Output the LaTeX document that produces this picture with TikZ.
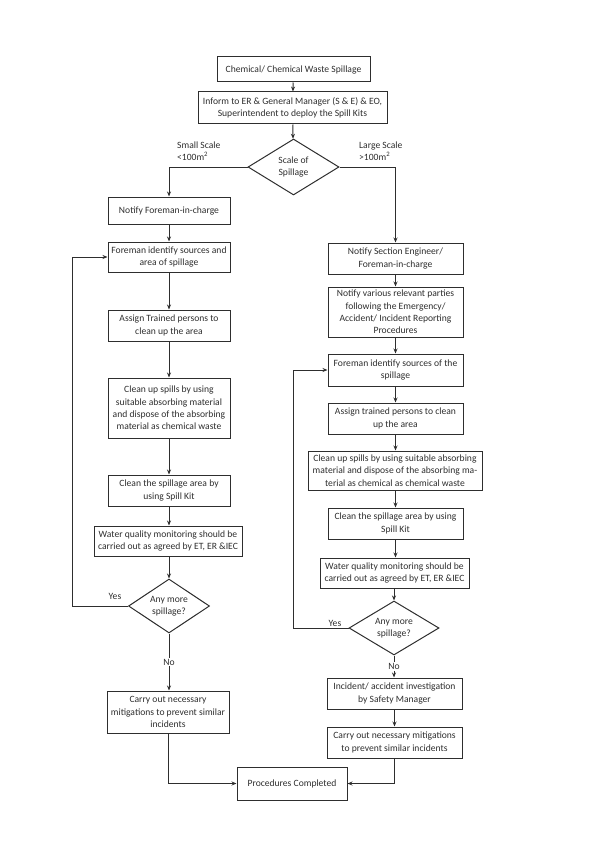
\documentclass[tikz,border=0pt]{standalone}
\usepackage{fontspec}
\setmainfont{Carlito}
\usetikzlibrary{shapes.geometric,arrows.meta,calc}
\definecolor{ink}{HTML}{2E2E2E}
\begin{document}
\begin{tikzpicture}[x=1pt,y=-1pt,
  every node/.style={font=\fontsize{9.6}{12.3}\selectfont, text=ink},
  box/.style={draw=ink, line width=1pt, align=center, inner sep=1pt},
  dec/.style={draw=ink, line width=1pt, diamond, align=center, inner sep=0pt, aspect=1.6},
  arr/.style={draw=ink, line width=1pt, -{Stealth[length=5pt,width=4pt]}},
  ln/.style={draw=ink, line width=1pt},
  lbl/.style={inner sep=1pt}]
\useasboundingbox (0,0) rectangle (599,848);
% top
\node[box, minimum width=153pt, minimum height=25pt] (b1) at (293.5,69.5) {Chemical/ Chemical Waste Spillage};
\node[box, minimum width=189pt, minimum height=32pt] (b2) at (292.5,108) {Inform to ER \& General Manager (S \& E) \& EO,\\Superintendent to deploy the Spill Kits};
\node[dec, minimum width=91pt, minimum height=56pt] (d1) at (293.5,167) {Scale of\\Spillage};
\node[lbl, anchor=west, align=left] (ls) at (176,151) {Small Scale\\<100m\textsuperscript{2}};
\node[lbl, anchor=west, align=left] (rs) at (358,151) {Large Scale\\>100m\textsuperscript{2}};
% left column
\node[box, minimum width=122pt, minimum height=27pt] (l1) at (169,210.5) {Notify Foreman-in-charge};
\node[box, minimum width=122pt, minimum height=30pt] (l2) at (169,257) {Foreman identify sources and\\area of spillage};
\node[box, minimum width=122pt, minimum height=31pt] (l3) at (169,325.5) {Assign Trained persons to\\clean up the area};
\node[box, minimum width=122pt, minimum height=60pt] (l4) at (169,408) {Clean up spills by using\\suitable absorbing material\\and dispose of the absorbing\\material as chemical waste};
\node[box, minimum width=122pt, minimum height=31pt] (l5) at (169,490.5) {Clean the spillage area by\\using Spill Kit};
\node[box, minimum width=148pt, minimum height=30pt] (l6) at (168,541) {Water quality monitoring should be\\carried out as agreed by ET, ER \&IEC};
\node[dec, minimum width=81pt, minimum height=54pt] (d2) at (169,606) {Any more\\spillage?};
\node[box, minimum width=122pt, minimum height=42pt] (l7) at (168,712) {Carry out necessary\\mitigations to prevent similar\\incidents};
% right column
\node[box, minimum width=135pt, minimum height=31pt] (r1) at (395.5,258.5) {Notify Section Engineer/\\Foreman-in-charge};
\node[box, minimum width=135pt, minimum height=50pt] (r2) at (395.5,312) {Notify various relevant parties\\following the Emergency/\\Accident/ Incident Reporting\\Procedures};
\node[box, minimum width=135pt, minimum height=32pt] (r3) at (395.5,370) {Foreman identify sources of the\\spillage};
\node[box, minimum width=135pt, minimum height=31pt] (r4) at (395.5,418.5) {Assign trained persons to clean\\up the area};
\node[box, minimum width=174pt, minimum height=39pt] (r5) at (395,470.5) {Clean up spills by using suitable absorbing\\material and dispose of the absorbing ma-\\terial as chemical as chemical waste};
\node[box, minimum width=135pt, minimum height=31pt] (r6) at (395.5,523.5) {Clean the spillage area by using\\Spill Kit};
\node[box, minimum width=149pt, minimum height=30pt] (r7) at (394.5,573) {Water quality monitoring should be\\carried out as agreed by ET, ER \&IEC};
\node[dec, minimum width=90pt, minimum height=54pt] (d3) at (394,628) {Any more\\spillage?};
\node[box, minimum width=135pt, minimum height=31pt] (r8) at (394.5,693.5) {Incident/ accident investigation\\by Safety Manager};
\node[box, minimum width=135pt, minimum height=31pt] (r9) at (394.5,742.5) {Carry out necessary mitigations\\to prevent similar incidents};
% final
\node[box, minimum width=110pt, minimum height=33pt] (fin) at (292,783.5) {Procedures Completed};
% loop corners
\coordinate (lloop) at (72,606);
\coordinate (rloop) at (293,628);
% connectors
\draw[arr] (b1) -- (b2);
\draw[arr] (b2) -- (d1);
\draw[arr] (d1.west) -| (l1.north);
\draw[arr] (d1.east) -| (r1.north);
\draw[arr] (l1) -- (l2);
\draw[arr] (l2) -- (l3);
\draw[arr] (l3) -- (l4);
\draw[arr] (l4) -- (l5);
\draw[arr] (l5) -- (l6.north -| l5);
\draw[arr] (l6.south -| d2) -- (d2);
\draw[arr] (d2.west) -- (lloop) |- (l2.west);
\draw[arr] (d2.south) -- node[lbl, fill=white] (no1) {No} (l7.north -| d2);
\draw[arr] (l7.south) |- (fin.west);
\draw[arr] (r1) -- (r2);
\draw[arr] (r2) -- (r3);
\draw[arr] (r3) -- (r4);
\draw[arr] (r4) -- (r5.north -| r4);
\draw[arr] (r5.south -| r6) -- (r6);
\draw[arr] (r6) -- (r7.north -| r6);
\draw[arr] (r7.south -| d3) -- (d3);
\draw[arr] (d3.west) -- (rloop) |- (r3.west);
\draw[arr] (d3.south) -- node[lbl, fill=white] (no2) {No} (r8.north -| d3);
\draw[arr] (r8) -- (r9);
\draw[arr] (r9.south) |- (fin.east);
% yes labels
\node[lbl] (y1) at (115,596) {Yes};
\node[lbl] (y2) at (335,623) {Yes};
\end{tikzpicture}
\end{document}
